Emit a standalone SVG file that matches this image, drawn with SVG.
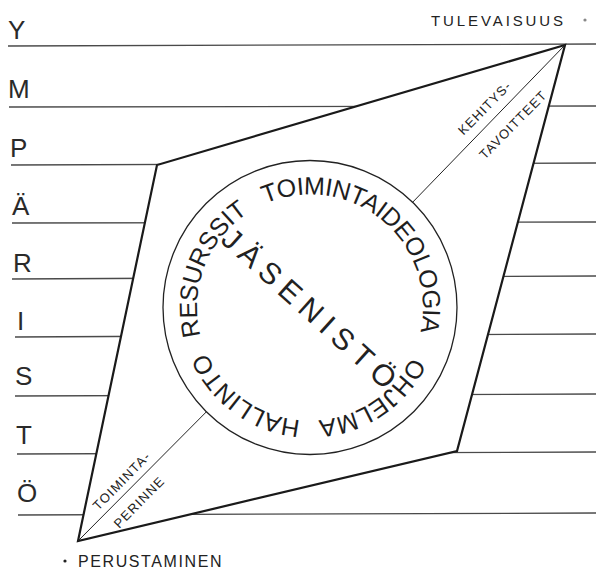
<svg xmlns="http://www.w3.org/2000/svg" width="596" height="569" viewBox="0 0 596 569">
<style>
.rule{stroke:#4a4a4a;stroke-width:1.3;fill:none}
.edge{stroke:#1a1a1a;stroke-width:2.2;fill:#fff;stroke-linejoin:miter}
.thin{stroke:#222;stroke-width:1;fill:none}
.ring{stroke:#222;stroke-width:1.3;fill:none}
.side{font-family:"Liberation Sans",Arial,sans-serif;font-size:26px;fill:#2a2a2a}
.arc{font-family:"Liberation Sans",Arial,sans-serif;font-size:25px;fill:#1e1e1e}
.diag{font-family:"Liberation Sans",Arial,sans-serif;font-size:13px;fill:#222;letter-spacing:1.2px}
.cap{font-family:"Liberation Sans",Arial,sans-serif;fill:#222}
</style>
<defs>
<path id="topArc" d="M310,420.5 A113,113 0 1,1 310,194.5 A113,113 0 1,1 310,420.5"/>
<path id="botArc" d="M423,307.5 A113,113 0 1,1 197,307.5 A113,113 0 1,1 423,307.5"/>
</defs>
<rect width="596" height="569" fill="#fff"/>
<g id="rules">
<line class="rule" x1="8" y1="46" x2="596" y2="44"/>
<line class="rule" x1="9" y1="107" x2="596" y2="106"/>
<line class="rule" x1="11" y1="165" x2="596" y2="163"/>
<line class="rule" x1="12" y1="223" x2="596" y2="222"/>
<line class="rule" x1="12" y1="279" x2="596" y2="276"/>
<line class="rule" x1="15" y1="337" x2="596" y2="334"/>
<line class="rule" x1="15" y1="396" x2="596" y2="394"/>
<line class="rule" x1="17" y1="454" x2="596" y2="452"/>
<line class="rule" x1="18" y1="515" x2="596" y2="513"/>
</g>
<g id="rhombus">
<polygon class="edge" points="565,45 157,165 78,541 457,451"/>
</g>
<g id="connectors">
<line class="thin" x1="565" y1="45" x2="412.6" y2="202.3"/>
<line class="thin" x1="78" y1="541" x2="206.4" y2="411.8"/>
</g>
<g id="circle">
<circle class="ring" cx="310" cy="307.5" r="147"/>
<text class="arc" letter-spacing="-0.3"><textPath href="#topArc" startOffset="148.7">RESURSSIT</textPath></text>
<text class="arc" letter-spacing="-0.4"><textPath href="#topArc" startOffset="308.5">TOIMINTAIDEOLOGIA</textPath></text>
<text class="arc"><textPath href="#botArc" startOffset="51">OHJELMA</textPath></text>
<text class="arc"><textPath href="#botArc" startOffset="186.8">HALLINTO</textPath></text>
<text class="cap" font-size="30" letter-spacing="7" text-anchor="middle" transform="translate(310,307.5) rotate(42)" x="3.5" y="11.5">JÄSENISTÖ</text>
</g>
<g id="future">
<text class="diag" text-anchor="middle" transform="translate(488,111) rotate(-45.5)">KEHITYS-</text>
<text class="diag" text-anchor="middle" transform="translate(516.4,127.8) rotate(-45.5)">TAVOITTEET</text>
</g>
<g id="tradition">
<text class="diag" text-anchor="middle" transform="translate(125,484) rotate(-45.5)">TOIMINTA-</text>
<text class="diag" text-anchor="middle" transform="translate(142.4,505.3) rotate(-45.5)">PERINNE</text>
</g>
<g id="ymparisto">
<text class="side" x="8" y="39">Y</text>
<text class="side" x="8" y="98">M</text>
<text class="side" x="10" y="157">P</text>
<text class="side" x="12" y="215">Ä</text>
<text class="side" x="13" y="272">R</text>
<text class="side" x="17" y="330">I</text>
<text class="side" x="15" y="385">S</text>
<text class="side" x="16" y="444">T</text>
<text class="side" x="17" y="502">Ö</text>
</g>
<g id="tulevaisuus">
<text class="cap" font-size="15" letter-spacing="2.9" x="431" y="26">TULEVAISUUS</text>
<circle cx="585" cy="20" r="1.6" fill="#888"/>
</g>
<g id="perustaminen">
<circle cx="65" cy="561" r="1.6" fill="#222"/>
<text class="cap" font-size="16" letter-spacing="1.6" x="78" y="567">PERUSTAMINEN</text>
</g>
</svg>
